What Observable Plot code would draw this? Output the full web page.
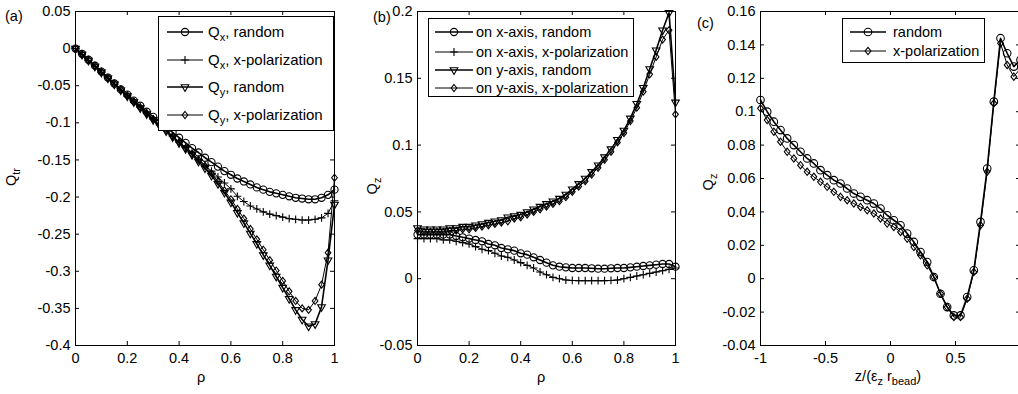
<!DOCTYPE html>
<html>
<head>
<meta charset="utf-8">
<script src="https://cdn.jsdelivr.net/npm/d3@7"></script>
<script src="https://cdn.jsdelivr.net/npm/@observablehq/plot@0.6"></script>
<style>
  html, body { margin: 0; padding: 0; background: #fff; }
  #root { position: relative; width: 1018px; height: 394px; overflow: hidden; background: #fff;
          font-family: "Liberation Sans", Arial, Helvetica, sans-serif; color: #000; }
  .panel { position: absolute; top: 0; }
  #overlay { position: absolute; left: 0; top: 0; pointer-events: none; }
</style>
</head>
<body>
<div id="root"></div>
<script>
// ---------------- DATA ----------------
// Panel (a): transverse Q vs rho
const rhoA = [0, 0.025, 0.05, 0.075, 0.1, 0.125, 0.15, 0.175, 0.2, 0.225, 0.25, 0.275, 0.3, 0.325, 0.35, 0.375, 0.4, 0.425, 0.45, 0.475, 0.5, 0.525, 0.55, 0.575, 0.6, 0.625, 0.65, 0.675, 0.7, 0.725, 0.75, 0.775, 0.8, 0.825, 0.85, 0.875, 0.9, 0.925, 0.95, 0.975, 1];
const aQxRandom = [0, -0.007, -0.015, -0.023, -0.031, -0.039, -0.047, -0.055, -0.062, -0.070, -0.077, -0.085, -0.092, -0.099, -0.106, -0.113, -0.120, -0.127, -0.134, -0.140, -0.147, -0.153, -0.159, -0.165, -0.170, -0.175, -0.179, -0.183, -0.187, -0.190, -0.193, -0.195, -0.197, -0.199, -0.201, -0.202, -0.203, -0.203, -0.201, -0.197, -0.190];
const aQxXpol = [0, -0.008, -0.016, -0.024, -0.032, -0.040, -0.048, -0.056, -0.064, -0.072, -0.079, -0.087, -0.095, -0.103, -0.110, -0.118, -0.126, -0.133, -0.141, -0.149, -0.157, -0.165, -0.173, -0.181, -0.189, -0.199, -0.206, -0.212, -0.216, -0.220, -0.223, -0.225, -0.227, -0.229, -0.230, -0.231, -0.231, -0.230, -0.228, -0.222, -0.205];
const aQyRandom = [0, -0.008, -0.016, -0.024, -0.032, -0.040, -0.048, -0.056, -0.064, -0.072, -0.080, -0.088, -0.096, -0.104, -0.111, -0.119, -0.127, -0.135, -0.143, -0.152, -0.161, -0.171, -0.182, -0.194, -0.207, -0.221, -0.235, -0.249, -0.263, -0.278, -0.292, -0.307, -0.322, -0.337, -0.352, -0.365, -0.374, -0.371, -0.348, -0.285, -0.210];
const aQyXpol = [0, -0.007, -0.015, -0.023, -0.031, -0.039, -0.047, -0.055, -0.063, -0.071, -0.079, -0.087, -0.095, -0.103, -0.110, -0.118, -0.126, -0.134, -0.142, -0.150, -0.158, -0.168, -0.179, -0.191, -0.203, -0.216, -0.229, -0.243, -0.257, -0.271, -0.285, -0.299, -0.313, -0.327, -0.340, -0.350, -0.352, -0.340, -0.318, -0.275, -0.174];

// Panel (b): Qz vs rho
const rhoB = [0, 0.025, 0.05, 0.075, 0.1, 0.125, 0.15, 0.175, 0.2, 0.225, 0.25, 0.275, 0.3, 0.325, 0.35, 0.375, 0.4, 0.425, 0.45, 0.475, 0.5, 0.525, 0.55, 0.575, 0.6, 0.625, 0.65, 0.675, 0.7, 0.725, 0.75, 0.775, 0.8, 0.825, 0.85, 0.875, 0.9, 0.925, 0.95, 0.975, 1];
const bXRandom = [0.033, 0.033, 0.033, 0.033, 0.033, 0.033, 0.032, 0.031, 0.030, 0.029, 0.028, 0.026, 0.025, 0.023, 0.022, 0.021, 0.019, 0.018, 0.016, 0.014, 0.012, 0.010, 0.009, 0.0085, 0.008, 0.008, 0.008, 0.0078, 0.0075, 0.0075, 0.0078, 0.008, 0.008, 0.0085, 0.009, 0.0095, 0.010, 0.0105, 0.011, 0.011, 0.009];
const bXXpol = [0.030, 0.030, 0.030, 0.030, 0.029, 0.029, 0.028, 0.027, 0.026, 0.024, 0.022, 0.021, 0.019, 0.017, 0.016, 0.014, 0.012, 0.010, 0.008, 0.005, 0.003, 0.001, 0.000, -0.001, -0.0013, -0.0015, -0.0015, -0.0015, -0.0015, -0.0015, -0.0013, -0.001, 0.000, 0.001, 0.002, 0.003, 0.004, 0.005, 0.006, 0.007, 0.008];
const bYRandom = [0.038, 0.037, 0.037, 0.037, 0.037, 0.038, 0.038, 0.039, 0.039, 0.040, 0.041, 0.042, 0.043, 0.044, 0.046, 0.047, 0.048, 0.050, 0.052, 0.054, 0.056, 0.058, 0.060, 0.063, 0.067, 0.071, 0.075, 0.080, 0.085, 0.091, 0.097, 0.104, 0.111, 0.120, 0.131, 0.143, 0.157, 0.171, 0.186, 0.199, 0.132];
const bYXpol = [0.036, 0.035, 0.035, 0.035, 0.035, 0.036, 0.036, 0.037, 0.037, 0.038, 0.039, 0.040, 0.041, 0.042, 0.043, 0.045, 0.046, 0.048, 0.050, 0.052, 0.054, 0.056, 0.058, 0.061, 0.065, 0.069, 0.073, 0.078, 0.083, 0.089, 0.095, 0.102, 0.109, 0.118, 0.128, 0.140, 0.153, 0.166, 0.179, 0.186, 0.123];

// Panel (c): Qz vs z/(eps_z r_bead)
const zC = [-1, -0.9487, -0.8974, -0.8462, -0.7949, -0.7436, -0.6923, -0.641, -0.5897, -0.5385, -0.4872, -0.4359, -0.3846, -0.3333, -0.2821, -0.2308, -0.1795, -0.1282, -0.0769, -0.0256, 0.0256, 0.0769, 0.1282, 0.1795, 0.2308, 0.2821, 0.3333, 0.3846, 0.4359, 0.4872, 0.5385, 0.5897, 0.641, 0.6923, 0.7436, 0.7949, 0.8462, 0.8974, 0.9487, 1];
const cRandom = [0.107, 0.100, 0.094, 0.089, 0.084, 0.080, 0.076, 0.072, 0.069, 0.065, 0.062, 0.059, 0.057, 0.054, 0.051, 0.049, 0.047, 0.045, 0.042, 0.038, 0.035, 0.032, 0.027, 0.022, 0.016, 0.010, 0.001, -0.009, -0.017, -0.022, -0.022, -0.011, 0.005, 0.034, 0.066, 0.106, 0.144, 0.135, 0.127, 0.131];
const cXpol = [0.102, 0.095, 0.088, 0.082, 0.076, 0.072, 0.068, 0.064, 0.061, 0.058, 0.055, 0.052, 0.049, 0.047, 0.045, 0.043, 0.041, 0.039, 0.036, 0.033, 0.031, 0.028, 0.024, 0.019, 0.014, 0.008, 0.001, -0.009, -0.017, -0.023, -0.023, -0.012, 0.004, 0.032, 0.064, 0.105, 0.141, 0.128, 0.121, 0.126];

// Tick values (tick marks) and labelled ticks
const xTicksA = [0, 0.2, 0.4, 0.6, 0.8, 1];
const yTicksA = [0.05, 0, -0.05, -0.1, -0.15, -0.2, -0.25, -0.3, -0.35, -0.4];
const xTicksB = [0, 0.2, 0.4, 0.6, 0.8, 1];
const yTicksB = [-0.05, 0, 0.05, 0.1, 0.15, 0.2];
const xTicksC = [-1, -0.5, 0, 0.5, 1];
const xLabelsC = [-1, -0.5, 0, 0.5];   // the "1" label falls outside the picture
const yTicksC = [-0.04, -0.02, 0, 0.02, 0.04, 0.06, 0.08, 0.1, 0.12, 0.14, 0.16];

// ---------------- SYMBOLS (MATLAB-like) ----------------
const symCircle = { draw(ctx, size) { const r = Math.sqrt(size / Math.PI); ctx.moveTo(r, 0); ctx.arc(0, 0, r, 0, 2 * Math.PI); } };
const symTriDown = { draw(ctx, size) { const R = Math.sqrt(size / Math.PI) * 1.3; ctx.moveTo(0, R); ctx.lineTo(R * 0.866, -R * 0.5); ctx.lineTo(-R * 0.866, -R * 0.5); ctx.closePath(); } };
const symDiamond = { draw(ctx, size) { const h = Math.sqrt(size / Math.PI) * 1.1; ctx.moveTo(0, -h); ctx.lineTo(h * 0.8, 0); ctx.lineTo(0, h); ctx.lineTo(-h * 0.8, 0); ctx.closePath(); } };
const symPlus = { draw(ctx, size) { const h = Math.sqrt(size / Math.PI) * 1.15; ctx.moveTo(-h, 0); ctx.lineTo(h, 0); ctx.moveTo(0, -h); ctx.lineTo(0, h); } };

const fmt = d => String(Math.round(d * 1000) / 1000);
const FONT = '"Liberation Sans", Arial, Helvetica, sans-serif';

function makePanel({left, width, mL, mR, xDom, yDom, xTicks, xLabels, yTicks, series}) {
  const H = 394, mT = 11, mB = 49;
  const plotW = width - mL - mR, plotH = H - mT - mB;
  const marks = [
    Plot.frame({stroke: "#000", strokeWidth: 1}),
    Plot.tickX(xTicks, {x: d => d, insetTop: plotH - 4, stroke: "#000"}),
    Plot.tickX(xTicks, {x: d => d, insetBottom: plotH - 4, stroke: "#000"}),
    Plot.tickY(yTicks, {y: d => d, insetRight: plotW - 4, stroke: "#000"}),
    Plot.tickY(yTicks, {y: d => d, insetLeft: plotW - 4, stroke: "#000"}),
    Plot.axisX(xLabels || xTicks, {tickSize: 0, tickPadding: 7, tickFormat: fmt, label: null}),
    Plot.axisY(yTicks, {tickSize: 0, tickPadding: 5, tickFormat: fmt, label: null})
  ];
  for (const s of series) {
    marks.push(Plot.line(s.x, {x: s.x, y: s.y, stroke: "#000", strokeWidth: s.lw}));
    marks.push(Plot.dot(s.x, {x: s.x, y: s.y, symbol: s.sym, r: s.r, stroke: "#000", fill: "none", strokeWidth: 1.1}));
  }
  const svg = Plot.plot({
    width, height: H, marginLeft: mL, marginRight: mR, marginTop: mT, marginBottom: mB,
    x: {domain: xDom}, y: {domain: yDom},
    style: {fontFamily: FONT, fontSize: "14.5px", background: "transparent", color: "#000", overflow: "visible"},
    marks
  });
  svg.classList.add("panel");
  svg.style.left = left + "px";
  svg.style.position = "absolute";
  svg.style.top = "0px";
  return svg;
}

const root = document.getElementById("root");
root.appendChild(makePanel({
  left: 0, width: 340, mL: 75, mR: 6, xDom: [0, 1], yDom: [-0.4, 0.05], xTicks: xTicksA, yTicks: yTicksA,
  series: [
    {x: rhoA, y: aQxRandom, sym: symCircle, r: 3.6, lw: 1.6},
    {x: rhoA, y: aQxXpol, sym: symPlus, r: 3.4, lw: 1},
    {x: rhoA, y: aQyRandom, sym: symTriDown, r: 3.4, lw: 1.6},
    {x: rhoA, y: aQyXpol, sym: symDiamond, r: 3.2, lw: 1}
  ]
}));
root.appendChild(makePanel({
  left: 340, width: 340, mL: 77, mR: 5, xDom: [0, 1], yDom: [-0.05, 0.2], xTicks: xTicksB, yTicks: yTicksB,
  series: [
    {x: rhoB, y: bXRandom, sym: symCircle, r: 3.6, lw: 1.6},
    {x: rhoB, y: bXXpol, sym: symPlus, r: 3.4, lw: 1},
    {x: rhoB, y: bYRandom, sym: symTriDown, r: 3.4, lw: 1.6},
    {x: rhoB, y: bYXpol, sym: symDiamond, r: 3.2, lw: 1}
  ]
}));
root.appendChild(makePanel({
  left: 678, width: 345, mL: 82, mR: 3, xDom: [-1, 1], yDom: [-0.04, 0.16], xTicks: xTicksC, xLabels: xLabelsC, yTicks: yTicksC,
  series: [
    {x: zC, y: cRandom, sym: symCircle, r: 3.8, lw: 1.6},
    {x: zC, y: cXpol, sym: symDiamond, r: 3.3, lw: 1}
  ]
}));

// ---------------- OVERLAY: labels & legends ----------------
const ov = d3.select(root).append("svg").attr("id", "overlay").attr("width", 1018).attr("height", 394)
  .style("font-family", FONT).style("font-size", "14.5px");

// panel letters
ov.append("text").attr("x", 5).attr("y", 21).text("(a)");
ov.append("text").attr("x", 373).attr("y", 22).text("(b)");
ov.append("text").attr("x", 697).attr("y", 28).text("(c)");

// Text with subscripts: the part after a subscript is shifted back up with its own dy.
function subText(sel, parts, subSize = 11, shift = 4) {
  let pending = 0;
  for (const p of parts) {
    if (p.sub !== undefined) {
      sel.append("tspan").attr("dy", shift - pending).attr("font-size", subSize).text(p.sub);
      pending = shift;
    } else {
      const ts = sel.append("tspan").text(p.t);
      if (pending) ts.attr("dy", -pending);
      pending = 0;
    }
  }
}

// x labels
ov.append("text").attr("x", 201).attr("y", 382).attr("text-anchor", "middle").text("ρ");
ov.append("text").attr("x", 541).attr("y", 382).attr("text-anchor", "middle").text("ρ");
{
  const t = ov.append("text").attr("x", 888).attr("y", 381).attr("text-anchor", "middle");
  subText(t, [{t: "z/(ε"}, {sub: "z"}, {t: " r"}, {sub: "bead"}, {t: ")"}]);
}
// y labels (rotated)
{
  const t = ov.append("text").attr("transform", "translate(16,177) rotate(-90)").attr("text-anchor", "middle");
  subText(t, [{t: "Q"}, {sub: "tr"}]);
  const t2 = ov.append("text").attr("transform", "translate(377,186) rotate(-90)").attr("text-anchor", "middle");
  subText(t2, [{t: "Q"}, {sub: "z"}]);
  const t3 = ov.append("text").attr("transform", "translate(713,182) rotate(-90)").attr("text-anchor", "middle");
  subText(t3, [{t: "Q"}, {sub: "z"}]);
}

// legends
const legA = [
  {parts: [{t: "Q"}, {sub: "x"}, {t: ", random"}], sym: symCircle, r: 3.6, lw: 1.6},
  {parts: [{t: "Q"}, {sub: "x"}, {t: ", x-polarization"}], sym: symPlus, r: 3.4, lw: 1},
  {parts: [{t: "Q"}, {sub: "y"}, {t: ", random"}], sym: symTriDown, r: 3.4, lw: 1.6},
  {parts: [{t: "Q"}, {sub: "y"}, {t: ", x-polarization"}], sym: symDiamond, r: 3.2, lw: 1}
];
const legB = [
  {parts: [{t: "on x-axis, random"}], sym: symCircle, r: 3.6, lw: 1.6},
  {parts: [{t: "on x-axis, x-polarization"}], sym: symPlus, r: 3.4, lw: 1},
  {parts: [{t: "on y-axis, random"}], sym: symTriDown, r: 3.4, lw: 1.6},
  {parts: [{t: "on y-axis, x-polarization"}], sym: symDiamond, r: 3.2, lw: 1}
];
const legC = [
  {parts: [{t: "random"}], sym: symCircle, r: 3.8, lw: 1.6},
  {parts: [{t: "x-polarization"}], sym: symDiamond, r: 3.3, lw: 1}
];

function legend(items, {x, y, w, h, rows, l0, l1, tx, fs}) {
  const g = ov.append("g").attr("transform", `translate(${x},${y})`);
  g.append("rect").attr("x", 0.5).attr("y", 0.5).attr("width", w).attr("height", h)
    .attr("fill", "#fff").attr("stroke", "#000").attr("stroke-width", 1);
  items.forEach((it, i) => {
    const cy = rows[i];
    g.append("line").attr("x1", l0).attr("x2", l1).attr("y1", cy).attr("y2", cy)
      .attr("stroke", "#000").attr("stroke-width", it.lw);
    g.append("path").attr("transform", `translate(${(l0 + l1) / 2},${cy})`)
      .attr("d", d3.symbol(it.sym, Math.PI * it.r * it.r)())
      .attr("fill", "none").attr("stroke", "#000").attr("stroke-width", 1.1);
    const t = g.append("text").attr("x", tx).attr("y", cy + 5).attr("font-size", fs);
    subText(t, it.parts);
  });
}
legend(legA, {x: 158, y: 16, w: 175, h: 114, rows: [16, 44, 71, 99], l0: 9, l1: 45, tx: 50, fs: 15});
legend(legB, {x: 428, y: 18, w: 205, h: 78, rows: [14, 34, 52, 70], l0: 7, l1: 45, tx: 48, fs: 14.5});
legend(legC, {x: 842, y: 18, w: 142, h: 44, rows: [14, 33], l0: 8, l1: 44, tx: 51, fs: 14.5});
</script>
</body>
</html>
